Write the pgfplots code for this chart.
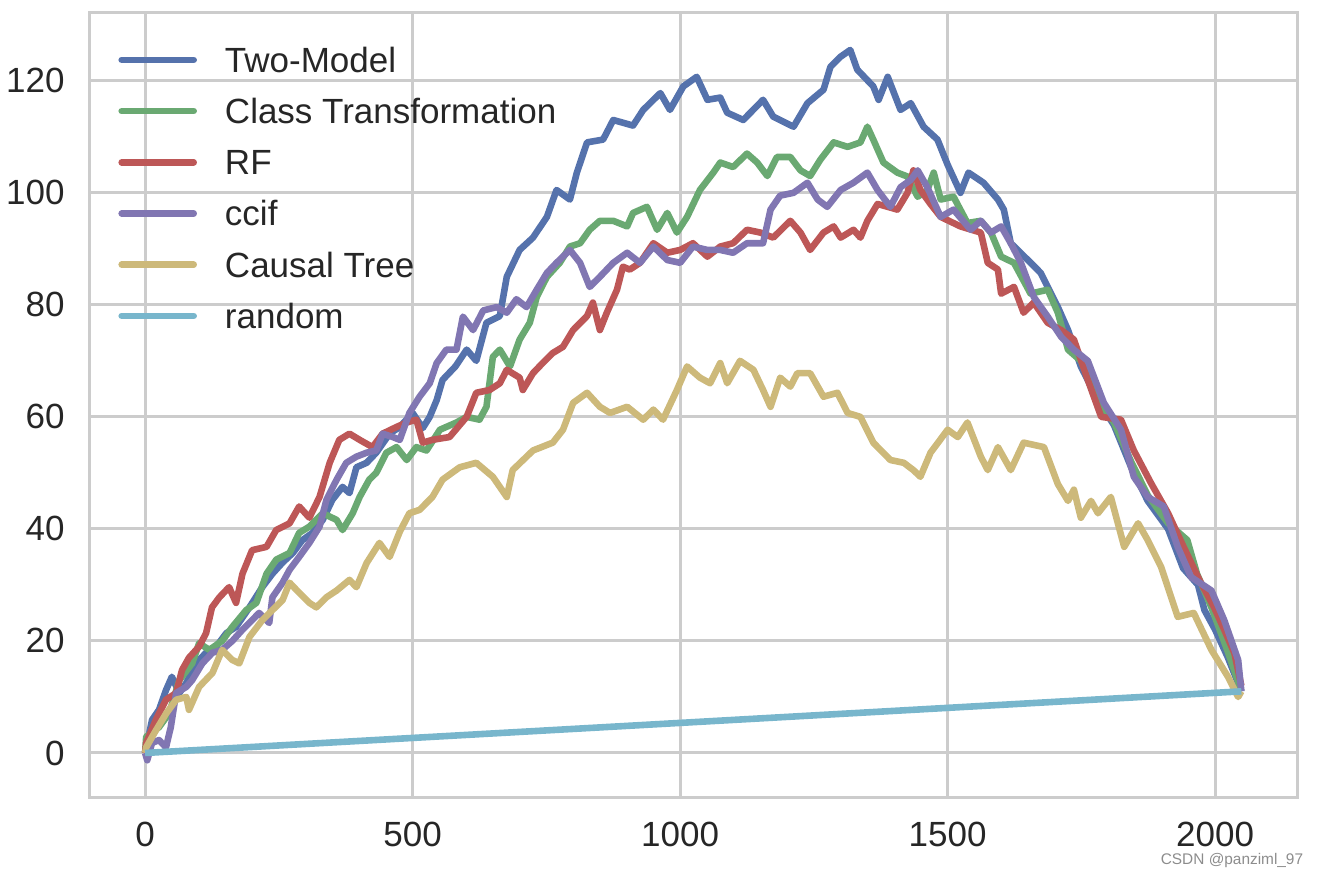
\documentclass[border=0pt]{standalone}
\usepackage{fontspec}
\setmainfont{Liberation Sans}
\usepackage{pgfplots}
\pgfplotsset{compat=1.18}
\definecolor{cblue}{HTML}{5572AC}
\definecolor{cgreen}{HTML}{6AA972}
\definecolor{cred}{HTML}{BD5757}
\definecolor{cpurple}{HTML}{8176B2}
\definecolor{cyellow}{HTML}{CDB97A}
\definecolor{ccyan}{HTML}{78B6CC}
\definecolor{gridgray}{HTML}{CCCCCC}
\definecolor{textgray}{HTML}{262626}
\begin{document}
\begin{tikzpicture}
\path[use as bounding box] (0,0) rectangle (659pt,437pt);
\begin{axis}[
  at={(45pt,38.5pt)}, anchor=south west,
  scale only axis, width=603.5pt, height=392pt,
  xmin=-103, xmax=2153, ymin=-7.86, ymax=132.1,
  xtick={0,500,1000,1500,2000}, ytick={0,20,40,60,80,100,120},
  grid=major, major grid style={line width=1.5pt, draw=gridgray},
  axis line style={line width=1.5pt, draw=gridgray},
  major tick length=0pt, tick style={draw=none},
  /pgf/number format/assume math mode=true,
  /pgf/number format/1000 sep={},
  ticklabel style={font=\fontsize{17.5}{21}\selectfont, text=textgray, inner sep=0pt},
  yticklabel style={anchor=east, xshift=-12.5pt},
  xticklabel style={anchor=north, yshift=-12.5pt},
  legend cell align=left,
  legend image code/.code={\draw[#1, line cap=round] (0pt,0pt) -- (36pt,0pt);},
  legend style={draw=none, fill=none, at={(0,1)}, anchor=north west,
    xshift=14pt, yshift=-17pt, inner sep=0pt, row sep=13.1pt, column sep=14pt,
    nodes={inner sep=0pt, text height=12.5pt, text depth=0pt,
      font=\fontsize{17.5}{21}\selectfont, text=textgray}},
  every axis plot/.append style={line width=3.3pt, line join=round},
]
\addplot[cblue] coordinates {
(0,0) (13,5.9) (26,7.7) (39,11.2) (50,13.6) (64,10.7) (77,12.5) (95,16) (114,17.9) (133,19)
(152,21.4) (170,22.5) (195,26) (219,29.6) (238,32) (257,34) (276,35.7) (294,38) (313,39.3)
(332,41.6) (350,45.2) (369,47.5) (382,46.4) (395,51) (414,51.8) (432,53.6) (457,57) (476,58.2)
(500,60.7) (519,58) (532,60) (545,63) (556,66.6) (580,69) (601,72) (619,70) (638,76.8) (663,78)
(676,85) (700,89.8) (725,92) (751,95.7) (769,100.5) (794,98.8) (807,103.6) (826,109) (856,109.5)
(875,113) (912,112) (931,114.8) (963,117.8) (981,114.8) (1006,119) (1031,120.7) (1051,116.6)
(1075,117) (1088,114.3) (1118,113) (1155,116.6) (1174,113.6) (1212,111.8) (1238,116) (1268,118.4)
(1281,122.5) (1300,124.3) (1318,125.5) (1331,122) (1361,119) (1371,116.6) (1388,120.7) (1412,114.8)
(1431,116) (1455,111.8) (1481,109.5) (1500,105) (1524,100) (1539,103.6) (1567,101.8) (1594,98.8)
(1605,97) (1618,91) (1650,88) (1674,85.7) (1687,83.2) (1706,79.6) (1725,75.5) (1749,69) (1781,63)
(1811,58.5) (1843,51) (1874,45) (1912,40) (1940,33) (1968,30) (1980,25.5) (2000,22) (2024,17) (2049,11)
};
\addlegendentry{Two-Model}
\addplot[cgreen] coordinates {
(0,0) (2,2.9) (26,4.6) (45,7.1) (64,13) (88,16) (101,19.6) (120,18.4) (144,20) (163,22.5) (189,25.5)
(208,26.8) (227,32) (245,34.5) (270,35.7) (288,39.3) (307,40.4) (332,42.8) (358,41.6) (369,39.8)
(388,42.8) (401,45.7) (419,48.8) (432,50) (451,53.6) (470,54.6) (489,52.3) (507,54.6) (526,54)
(551,57.7) (582,59) (601,60) (625,59.5) (638,61.8) (650,70.7) (663,72) (682,69) (700,73.8) (719,76.8)
(732,81.4) (751,85) (775,87.5) (794,90.4) (813,91) (831,93.4) (850,95) (875,95) (901,94) (912,96.4)
(938,97.5) (957,93.4) (976,96.4) (994,92.9) (1013,95.7) (1037,100.5) (1062,103.6) (1075,105.4)
(1099,104.6) (1125,107) (1144,105.4) (1163,103) (1181,106.4) (1206,106.4) (1225,104) (1243,103)
(1262,105.9) (1287,109) (1313,108.2) (1337,109) (1350,111.8) (1361,109.5) (1380,105.4) (1406,103.6)
(1425,102.9) (1444,99.3) (1462,100.5) (1474,103.6) (1487,98.8) (1511,99.3) (1537,94.6) (1562,95)
(1581,92.9) (1600,88.6) (1624,87.5) (1655,82) (1687,82.7) (1706,78.6) (1725,72) (1749,70) (1781,63)
(1811,59) (1843,52) (1874,46) (1912,41) (1948,38) (1966,32) (1993,26) (2024,18) (2049,11)
};
\addlegendentry{Class Transformation}
\addplot[cred] coordinates {
(0,0) (2,1.8) (20,5.9) (39,9.5) (58,10.7) (69,14.8) (82,17) (101,19) (114,21.4) (125,26) (139,27.8)
(157,29.6) (170,26.8) (182,32) (200,36.2) (227,36.8) (245,39.8) (270,41) (288,44) (307,42) (326,45.7)
(345,51.8) (363,55.9) (382,57) (401,55.9) (425,54.6) (444,57) (470,58.2) (489,59) (507,59.5)
(519,55.4) (537,55.9) (569,56.4) (601,60) (619,64.3) (644,64.8) (663,66) (676,68.4) (700,67)
(706,64.8) (725,67.8) (743,69.6) (762,71.4) (781,72.5) (800,75.5) (826,78) (837,80.4) (850,75.5)
(863,78.6) (882,82.7) (893,86.8) (906,86.3) (925,87.5) (950,91) (976,89.3) (1000,89.8) (1024,91)
(1051,88.6) (1075,90.4) (1099,91) (1125,93.4) (1150,92.9) (1174,92) (1206,95) (1225,92.9) (1243,89.8)
(1268,92.9) (1287,94) (1300,92) (1324,93.4) (1337,92) (1350,95) (1369,98) (1388,97.5) (1406,97)
(1425,100) (1436,104) (1449,100.5) (1468,98) (1487,95.7) (1524,94) (1562,92.9) (1575,87.5)
(1594,86.3) (1600,82) (1624,83.2) (1642,78.6) (1661,80.4) (1687,76.8) (1712,75.5) (1736,73.8)
(1762,66.6) (1787,60) (1824,59.5) (1848,54) (1880,48.2) (1912,42.8) (1940,37) (1970,31) (1998,26)
(2017,22) (2036,17.8) (2049,12)
};
\addlegendentry{RF}
\addplot[cpurple] coordinates {
(0,0) (4,-1.3) (13,1.8) (26,2.3) (39,1) (48,4.6) (58,10.7) (77,11.8) (88,13) (107,16) (126,17.9)
(144,18.4) (163,20) (182,22) (200,23.7) (213,25) (232,23.2) (238,27.8) (257,30.4) (270,32.7) (288,35)
(307,37.5) (326,40.4) (339,45.2) (358,48.8) (376,51.8) (395,52.9) (414,53.6) (432,54) (444,57)
(463,56.4) (476,55.9) (494,60.7) (513,63.6) (532,66) (545,69.6) (563,72) (582,72) (594,77.9)
(613,75.5) (632,79) (657,79.6) (676,78.6) (694,81) (713,79.6) (732,82.7) (751,85.7) (769,87.5)
(794,89.8) (813,87.5) (831,83.2) (850,85) (875,87.5) (901,89.3) (925,87.5) (950,90.4) (976,88)
(1000,87.5) (1024,90.4) (1051,89.8) (1075,89.8) (1099,89.3) (1125,91) (1155,91) (1169,97)
(1187,99.5) (1212,100) (1238,101.8) (1257,98.8) (1275,97.5) (1300,100.5) (1324,101.8) (1350,103.6)
(1369,100.5) (1393,97.5) (1412,101) (1431,102.3) (1444,104) (1462,101) (1487,95.7) (1511,97)
(1543,93.4) (1562,95) (1581,92.9) (1600,94) (1618,91) (1637,87.5) (1661,81.4) (1687,77.9)
(1712,74.3) (1736,72) (1762,70) (1792,62.5) (1824,57.7) (1848,49.3) (1874,45.7) (1904,44)
(1930,36.8) (1955,31.4) (1993,29) (2017,23.7) (2043,16.6) (2049,11)
};
\addlegendentry{ccif}
\addplot[cyellow] coordinates {
(0,0) (2,1) (20,4) (39,7) (58,9.5) (77,10) (82,7.7) (101,11.8) (126,14.3) (144,18.4) (163,16.6)
(176,16) (195,20.7) (219,23.7) (238,25.5) (257,27.3) (270,30.4) (288,28.6) (307,26.8) (320,26)
(339,27.8) (358,29) (382,30.9) (395,29.6) (414,33.9) (438,37.5) (457,35) (476,39.5) (494,42.8)
(513,43.4) (537,45.7) (556,48.8) (588,51) (619,51.8) (650,49.3) (676,45.7) (687,50.5) (725,54)
(762,55.4) (781,57.7) (800,62.5) (826,64.3) (850,61.8) (869,60.7) (901,61.8) (931,59.5) (950,61.3)
(968,59.5) (994,64.8) (1013,69) (1037,67) (1056,66) (1075,69.6) (1088,66) (1112,70) (1137,68.4)
(1155,64.8) (1169,61.8) (1187,67) (1206,65.4) (1219,67.8) (1243,67.8) (1268,63.6) (1294,64.3)
(1313,60.7) (1337,60) (1361,55.4) (1393,52.3) (1418,51.8) (1436,50.5) (1449,49.3) (1468,53.6)
(1500,57.7) (1519,56.4) (1537,59) (1562,52.9) (1575,50.5) (1594,54.6) (1618,50.5) (1642,55.4)
(1680,54.6) (1706,48) (1725,45) (1736,47) (1749,42) (1768,45) (1781,42.8) (1805,45.7) (1830,36.8)
(1856,41) (1874,38) (1899,33.2) (1930,24.3) (1960,25) (1993,18.4) (2024,13.6) (2043,10) (2049,11)
};
\addlegendentry{Causal Tree}
\addplot[ccyan] coordinates {(0,0) (2049,11)};
\addlegendentry{random}
\end{axis}
\node[font=\fontsize{7.7}{9}\selectfont, text=black!45] at (616pt,6.8pt) {CSDN @panziml\_97};
\end{tikzpicture}
\end{document}
